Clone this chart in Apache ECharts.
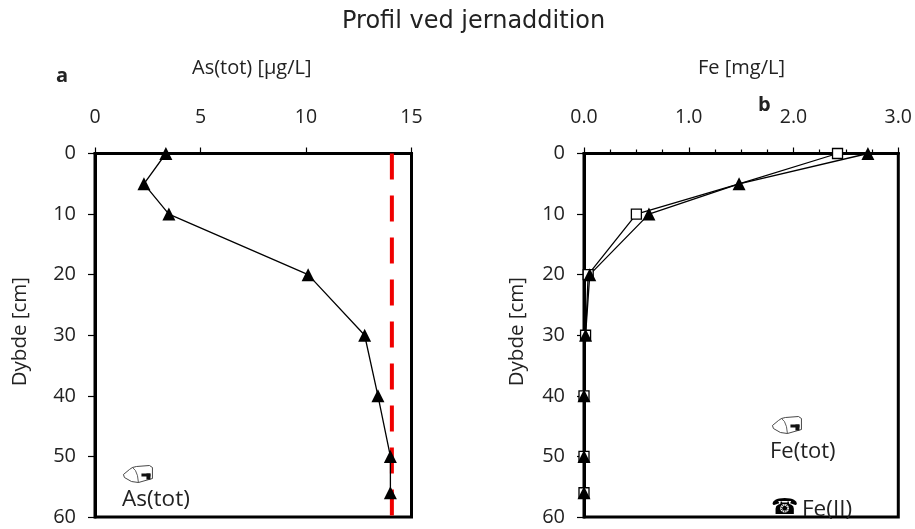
<!DOCTYPE html>
<html><head><meta charset="utf-8">
<script src="https://cdn.jsdelivr.net/npm/echarts@6/dist/echarts.min.js"></script>
<style>html,body{margin:0;padding:0;background:#fff}#c{width:915px;height:529px}</style></head>
<body><div id="c"></div>
<script>
const depth=[0,5,10,20,30,40,50,56];
const asTot=[3.36,2.32,3.5,10.1,12.78,13.41,14,14];
const feTot=[2.71,1.48,0.62,0.055,0.015,0.0,0.0,0.0];
const feII=[2.42,1.48,0.5,0.04,0.015,0.0,0.0,0.0];
const limitX=[14.07,14.07];
const limitY=[0,60];
const F='"Open Sans"';
const pair=(x,y)=>x.map((v,i)=>[v,y[i]]);
const xa=(i,max,iv,minor,fmt)=>({gridIndex:i,type:'value',position:'top',min:0,max,interval:iv,
 axisLine:{onZero:false,lineStyle:{color:'#000',width:3}},
 axisTick:{inside:false,length:6,lineStyle:{color:'#000',width:1.2}},
 minorTick:{show:minor,splitNumber:4,length:4,lineStyle:{color:'#000',width:1.2}},
 axisLabel:{color:'#222',fontFamily:F,fontSize:19.5,margin:26,formatter:fmt,hideOverlap:false,showMinLabel:true,showMaxLabel:true},
 splitLine:{show:false},minorSplitLine:{show:false}});
const ya=(i)=>({gridIndex:i,type:'value',inverse:true,min:0,max:60,interval:10,
 axisLine:{onZero:false,lineStyle:{color:'#000',width:3}},
 axisTick:{length:7,lineStyle:{color:'#000',width:1.2}},
 axisLabel:{color:'#222',fontFamily:F,fontSize:20,margin:19,padding:[4,0,0,0]},
 splitLine:{show:false}});
const line=(name,i,x,y,sym,fill,sz)=>({name,type:'line',xAxisIndex:i,yAxisIndex:i,data:pair(x,y),
 clip:false,symbol:sym,symbolSize:sz,showAllSymbol:true,
 lineStyle:{color:'#000',width:1.3},itemStyle:{color:fill,borderColor:'#000',borderWidth:sym==='rect'?1.3:0}});
const txt=(x,y,t,o)=>({type:'text',left:x,top:y,z:50,style:Object.assign({text:t,fill:'#222',font:'20px "Open Sans"'},o||{}),silent:true});
const mailbox=(x,y)=>({type:'group',left:x,top:y,silent:true,children:[
 {type:'polygon',shape:{points:[[0,9],[6,4],[9,2],[13,1],[26,0],[29,2],[29,13],[15,17],[8,16],[1,12]]},style:{fill:'#fff',stroke:'#333',lineWidth:0.9}},
 {type:'polyline',shape:{points:[[9,2],[12,5],[14,10],[15,17]]},style:{fill:'none',stroke:'#333',lineWidth:0.8}},
 {type:'rect',shape:{x:18,y:8,width:9,height:3},style:{fill:'#111'}},
 {type:'rect',shape:{x:23,y:8,width:4,height:6},style:{fill:'#111'}}
]});
const frame=(l,w)=>({show:true,left:l,top:153.5,width:w,height:363.5,borderColor:'#000',borderWidth:3,backgroundColor:'transparent'});
const chart=echarts.init(document.getElementById('c'),null,{renderer:'canvas'});
chart.setOption({animation:false,backgroundColor:'#fff',
 grid:[frame(95,316.5),frame(584,316)],
 xAxis:[xa(0,15,5,false),xa(1,3,1,true,v=>v.toFixed(1))],
 yAxis:[ya(0),ya(1)],
 series:[
  {name:'limit',type:'line',xAxisIndex:0,yAxisIndex:0,data:pair(limitX,limitY),symbol:'none',
   lineStyle:{color:'#f00000',width:4,type:[26,16]}},
  line('As(tot)',0,asTot,depth,'triangle','#000',13),
  line('Fe(II)',1,feII,depth,'rect','#fff',(v,p)=>p.dataIndex===1?0:10),
  line('Fe(tot)',1,feTot,depth,'triangle','#000',13)
 ],
 graphic:[
  txt(342,10,'Profil ved jernaddition',{font:'24px "DejaVu Sans"',fill:'#222'}),
  txt(192,58,'As(tot) [µg/L]'),
  txt(698,58,'Fe [mg/L]'),
  txt(56,66,'a',{font:'bold 20px "Open Sans"'}),
  txt(758,95,'b',{font:'bold 20px "Open Sans"'}),
  {type:'text',left:10,top:277,rotation:Math.PI/2,z:50,silent:true,style:{text:'Dybde [cm]',fill:'#222',font:'20.5px "Open Sans"'}},
  {type:'text',left:507,top:277,rotation:Math.PI/2,z:50,silent:true,style:{text:'Dybde [cm]',fill:'#222',font:'20.5px "Open Sans"'}},
  mailbox(123,465),
  txt(122,488,'As(tot)',{font:'22.5px "Open Sans"'}),
  mailbox(772,416),
  txt(770,441,'Fe(tot)',{font:'22px "Open Sans"'}),
  txt(771,497,'☎',{font:'22px "DejaVu Sans"',fill:'#000'}),
  txt(802,498,'Fe(II)',{font:'22.5px "Open Sans"'}),
  {type:'rect',z:60,silent:true,shape:{x:765,y:519,width:110,height:10},style:{fill:'#fff'}}
 ]});
</script></body></html>
